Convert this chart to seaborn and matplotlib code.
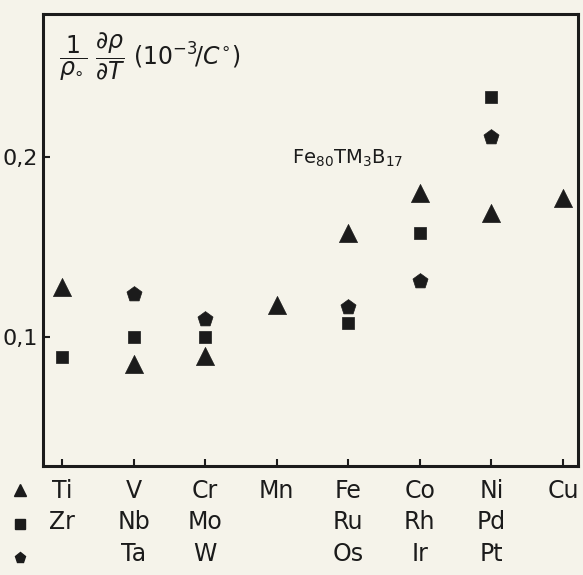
import matplotlib
matplotlib.use("Agg")
import matplotlib.pyplot as plt
from matplotlib.lines import Line2D
import seaborn as sns
import pandas as pd
import numpy as np

# ---- data ----
row1 = ["Ti", "V", "Cr", "Mn", "Fe", "Co", "Ni", "Cu"]   # triangles (3d)
row2 = ["Zr", "Nb", "Mo", "", "Ru", "Rh", "Pd", ""]      # squares (4d)
row3 = ["", "Ta", "W", "", "Os", "Ir", "Pt", ""]         # pentagons (5d)
tri_vals = [0.128, 0.085, 0.0895, 0.118, 0.158, 0.180, 0.169, 0.177]
sq_vals = [0.089, 0.100, 0.100, np.nan, 0.108, 0.158, 0.233, np.nan]
pent_vals = [np.nan, 0.124, 0.110, np.nan, 0.117, 0.131, 0.211, np.nan]
yticks = [0.1, 0.2]
ytick_labels = ["0,1", "0,2"]

BG = "#f5f3ea"
INK = "#1b1b1b"

sns.set_theme(style="white")
plt.rcParams["font.family"] = ["DejaVu Sans"]
plt.rcParams["mathtext.fontset"] = "dejavusans"

fig = plt.figure(figsize=(5.83, 5.75), dpi=100, facecolor=BG)
ax = fig.add_axes([43 / 583, 1 - 466 / 575, 535 / 583, 452 / 575])
ax.set_facecolor(BG)

pos = list(range(len(row1)))
df = pd.DataFrame({
    "pos": pos * 3,
    "value": tri_vals + sq_vals + pent_vals,
    "series": ["3d"] * 8 + ["4d"] * 8 + ["5d"] * 8,
}).dropna()

sns.scatterplot(data=df[df.series == "3d"], x="pos", y="value", marker="^",
                s=170, color=INK, edgecolor=INK, linewidth=0.5, ax=ax, legend=False)
sns.scatterplot(data=df[df.series == "4d"], x="pos", y="value", marker="s",
                s=85, color=INK, edgecolor=INK, linewidth=0.5, ax=ax, legend=False)
sns.scatterplot(data=df[df.series == "5d"], x="pos", y="value", marker="p",
                s=130, color=INK, edgecolor=INK, linewidth=0.5, ax=ax, legend=False)

ax.set_xlim(-0.265, 7.21)
ax.set_ylim(0.0287, 0.279)
ax.set_xlabel("")
ax.set_ylabel("")

labels = [f"{a}\n{b if b else ' '}\n{c if c else ' '}"
          for a, b, c in zip(row1, row2, row3)]
ax.set_xticks(pos)
ax.set_xticklabels(labels, fontsize=17, color=INK, va="top", linespacing=1.42)
ax.set_yticks(yticks)
ax.set_yticklabels(ytick_labels, fontsize=16, color=INK)

ax.tick_params(axis="x", direction="in", length=5, width=1.5, color=INK, pad=9, bottom=True)
ax.tick_params(axis="y", direction="in", length=5, width=1.5, color=INK, pad=4, left=True)
for sp in ax.spines.values():
    sp.set_color(INK)
    sp.set_linewidth(2.2)
    sp.set_visible(True)

# axis quantity label, inside top-left
ax.text(0.03, 0.962,
        r"$\dfrac{1}{\rho_{\circ}}\ \dfrac{\partial\rho}{\partial T}$ $(10^{-3}\!/C^{\circ})$",
        transform=ax.transAxes, ha="left", va="top", fontsize=17, color=INK)

# alloy label
ax.text(0.465, 0.68, r"Fe$_{80}$TM$_3$B$_{17}$", transform=ax.transAxes,
        ha="left", va="center", fontsize=14, color=INK)

# row key (legend with markers only)
handles = [
    Line2D([], [], linestyle="none", marker="^", markersize=9, color=INK),
    Line2D([], [], linestyle="none", marker="s", markersize=7, color=INK),
    Line2D([], [], linestyle="none", marker="p", markersize=8, color=INK),
]
leg = fig.legend(handles, ["", "", ""], loc="upper left",
                 bbox_to_anchor=(8 / 583, 1 - 479 / 575),
                 frameon=False, handlelength=1.0, handletextpad=0.0,
                 borderpad=0.0, borderaxespad=0.0, labelspacing=0.42, fontsize=17)

fig.savefig("out.png", dpi=100, facecolor=BG)
